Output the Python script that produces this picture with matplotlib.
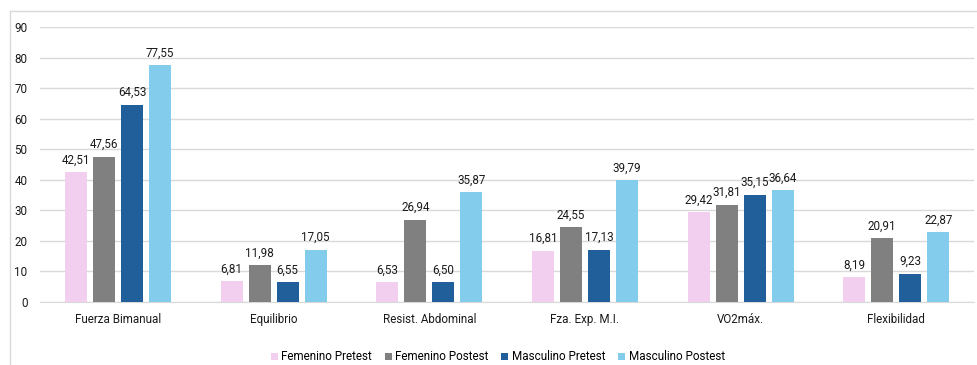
import numpy as np
import matplotlib.pyplot as plt
from matplotlib.lines import Line2D

categories = ["Fuerza Bimanual", "Equilibrio", "Resist. Abdominal",
              "Fza. Exp. M.I.", "VO2máx.", "Flexibilidad"]
series_names = ["Femenino Pretest", "Femenino Postest",
                "Masculino Pretest", "Masculino Postest"]
fem_pre = [42.51, 6.81, 6.53, 16.81, 29.42, 8.19]
fem_post = [47.56, 11.98, 26.94, 24.55, 31.81, 20.91]
masc_pre = [64.53, 6.55, 6.50, 17.13, 35.15, 9.23]
masc_post = [77.55, 17.05, 35.87, 39.79, 36.64, 22.87]

series = [fem_pre, fem_post, masc_pre, masc_post]
colors = ["#F2CEEF", "#808080", "#215F9A", "#83CCEB"]

plt.rcParams['font.family'] = ['Roboto', 'DejaVu Sans']
fs = 8.4

fig = plt.figure(figsize=(9.78, 3.65), dpi=100)
ax = fig.add_axes([0.041, 0.173, 0.955, 0.753])

x = np.arange(len(categories))
width = 0.142
pitch = 0.18
for i, (vals, c) in enumerate(zip(series, colors)):
    pos = x + (i - 1.5) * pitch
    bars = ax.bar(pos, vals, width, color=c, label=series_names[i], zorder=3)
    for b, v in zip(bars, vals):
        ax.annotate(f"{v:.2f}".replace(".", ","), (b.get_x() + b.get_width() / 2, v),
                    xytext=(0, 4), textcoords="offset points",
                    ha="center", va="bottom", fontsize=fs, color="#1a1a1a")

ax.set_xlim(-0.5, len(categories) - 0.5)
ax.set_ylim(0, 90)
ax.set_yticks(range(0, 91, 10))
ax.set_xticks(x)
ax.set_xticklabels(categories, fontsize=fs, color="#1a1a1a")
ax.tick_params(axis="y", labelsize=fs, colors="#1a1a1a", length=0, pad=9)
ax.tick_params(axis="x", length=0, pad=8)
ax.grid(axis="y", color="#D9D9D9", linewidth=1, zorder=0)
for s in ["top", "right", "left"]:
    ax.spines[s].set_visible(False)
ax.spines["bottom"].set_color("#D9D9D9")

ax.legend(loc="center", bbox_to_anchor=(0.49, -0.2), ncol=4, frameon=False,
          fontsize=fs, handlelength=0.6, handleheight=0.6, handletextpad=0.3,
          columnspacing=1.1)

# chart border (top and left edges visible in the crop)
fig.add_artist(Line2D([10 / 978, 1], [1 - 11 / 365] * 2, color="#D9D9D9", lw=1))
fig.add_artist(Line2D([10 / 978] * 2, [0, 1 - 11 / 365], color="#D9D9D9", lw=1))

fig.savefig("out.png", dpi=100)
